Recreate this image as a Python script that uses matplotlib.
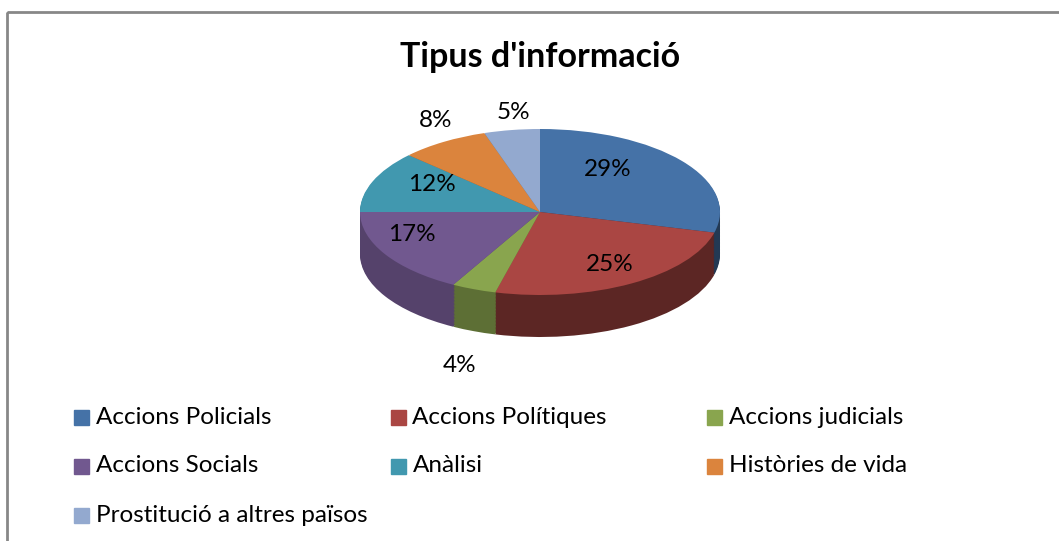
import numpy as np
import matplotlib.pyplot as plt
from matplotlib.colors import to_rgb
from matplotlib.patches import Rectangle

plt.rcParams['font.family'] = ['Lato', 'DejaVu Sans']

title = "Tipus d'informació"
categories = ['Accions Policials', 'Accions Polítiques', 'Accions judicials',
              'Accions Socials', 'Anàlisi', 'Històries de vida',
              'Prostitució a altres països']
values = [29, 25, 4, 17, 12, 8, 5]
colors = ['#4572A7', '#AA4643', '#89A54E', '#71588F', '#4198AF', '#DB843D', '#93A9CF']

W, H = 1059, 541
fig = plt.figure(figsize=(W / 100, H / 100), dpi=100)

# pie geometry in pixels (centre, radii, thickness)
cx, cy, rx, ry, depth = 540, 212, 180, 83, 42

ax = fig.add_axes([0, 0, 1, 1])

# darker wall colours, lit from the left
frac = np.cumsum(values) / sum(values) - np.array(values) / sum(values) / 2
mid = np.deg2rad(90 - 360 * frac)
dark = [tuple(c * (0.62 - 0.15 * np.cos(m)) for c in to_rgb(col)) for col, m in zip(colors, mid)]

# side wall: stack of darker pies shifted down
for d in np.linspace(depth, 1, 30):
    ax.pie(values, colors=dark, radius=1, center=(0, -d / ry), startangle=90,
           counterclock=False, wedgeprops=dict(linewidth=0))
wedges, _, autotexts = ax.pie(values, colors=colors, radius=1, startangle=90,
                              counterclock=False, wedgeprops=dict(linewidth=0),
                              autopct='%1.0f%%', pctdistance=0.6,
                              textprops=dict(fontsize=17.5, color='black'))
ax.set_aspect('auto')
ax.set_xlim(-cx / rx, (W - cx) / rx)
ax.set_ylim(-(H - cy) / ry, cy / ry)
ax.axis('off')

# label positions (pixels) like in the excel chart
label_px = [(608, 170), (610, 265), (460, 365), (412, 235), (432, 185), (436, 121), (513, 113)]
for t, (px, py) in zip(autotexts, label_px):
    t.set_position(((px - cx) / rx, (cy - py) / ry))

# overlay in pixel coords for border, title and legend
ov = fig.add_axes([0, 0, 1, 1], facecolor='none')
ov.set_xlim(0, W)
ov.set_ylim(H, 0)
ov.axis('off')
ov.add_patch(Rectangle((7, 12), W, H, fill=False, ec='#878787', lw=2))
ov.text(540, 57, title, ha='center', va='center', fontsize=24.5, fontweight='bold')

for i, (name, col) in enumerate(zip(categories, colors)):
    x0 = 74 + (i % 3) * 316.5
    y0 = 417 + (i // 3) * 49
    ov.add_patch(Rectangle((x0, y0 - 7.5), 15, 15, color=col))
    ov.text(x0 + 22, y0, name, ha='left', va='center', fontsize=17.5)

fig.savefig('out.png', dpi=100)
